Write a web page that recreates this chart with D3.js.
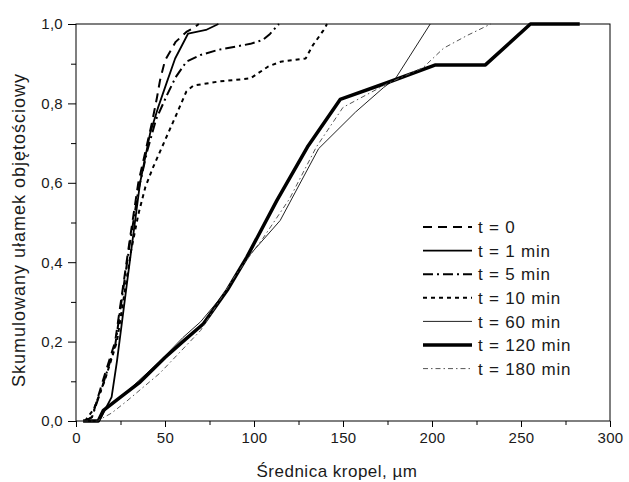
<!DOCTYPE html>
<html>
<head>
<meta charset="utf-8">
<script src="https://cdn.jsdelivr.net/npm/d3@7"></script>
<style>
  body { margin: 0; background: #fff; }
  svg text { font-family: "Liberation Sans", Arial, sans-serif; fill: #1a1a1a; }
</style>
</head>
<body>
<svg id="chart" width="629" height="482"></svg>
<script>
// Werte: [Srednica um, skumulowany ulamek]
const t0 = [[5,0],[9,0.01],[15,0.1],[22,0.2],[30,0.45],[35,0.6],[42.7,0.752],[45.5,0.815],[47.2,0.858],[50,0.908],[56,0.955],[62,0.98],[66,0.99],[69,1.0]];
const t1 = [[8,0],[13,0],[20,0.06],[23,0.15],[29,0.36],[36,0.6],[41.6,0.724],[46,0.788],[51,0.853],[55.7,0.913],[63,0.976],[73,0.985],[80,1.0]];
const t5 = [[5,0],[9,0.01],[15,0.09],[22,0.19],[30,0.44],[35,0.58],[40,0.68],[45,0.76],[51,0.82],[56,0.866],[62,0.905],[70,0.922],[80,0.935],[98,0.95],[105,0.96],[109,0.975],[114,1.0]];
const t10 = [[5,0],[10,0.03],[16,0.1],[23,0.2],[31,0.43],[35,0.52],[39,0.59],[43.4,0.64],[50,0.707],[56.7,0.775],[62,0.83],[66,0.845],[80,0.855],[98,0.863],[108,0.893],[115,0.905],[129,0.913],[133,0.946],[139,0.984],[141,1.0]];
const t60 = [[4,0],[12,0],[16,0.03],[30,0.08],[47,0.15],[60,0.21],[70,0.25],[85,0.33],[96,0.41],[114.7,0.505],[136.3,0.686],[157,0.778],[172.8,0.84],[179.4,0.862],[199,1.0]];
const t120 = [[4,0],[12.5,0],[15.4,0.027],[25,0.06],[36,0.098],[50,0.16],[60,0.2],[71.6,0.245],[85,0.33],[96,0.413],[112.8,0.555],[130,0.69],[148.4,0.81],[174.7,0.852],[202,0.897],[230,0.897],[255.3,1.0],[283,1.0]];
const t180 = [[4,0],[12,0],[20,0.02],[28.5,0.05],[47,0.12],[70,0.228],[90,0.37],[105,0.46],[120,0.56],[135,0.69],[150,0.79],[175,0.85],[195,0.89],[206.5,0.939],[219.7,0.971],[233,1.0]];

const seriesNames = ["t = 0", "t = 1 min", "t = 5 min", "t = 10 min", "t = 60 min", "t = 120 min", "t = 180 min"];
const seriesData = [t0, t1, t5, t10, t60, t120, t180];

const xTicks = [0, 50, 100, 150, 200, 250, 300];
const yTicks = [0, 0.2, 0.4, 0.6, 0.8, 1.0];

// Linienstile je Serie
const styles = [
  { w: 2, dash: "9,6", color: "#000" },
  { w: 1.8, dash: null, color: "#000" },
  { w: 2, dash: "10,4,2,4", color: "#000" },
  { w: 2, dash: "4,4", color: "#000" },
  { w: 1, dash: null, color: "#222" },
  { w: 3.5, dash: null, color: "#000" },
  { w: 1, dash: "5,3,1.5,3", color: "#555" }
];

const svg = d3.select("#chart");
const mLeft = 76, mRight = 610, mTop = 24, mBottom = 421;

const x = d3.scaleLinear().domain([0, 300]).range([mLeft, mRight]);
const y = d3.scaleLinear().domain([0, 1]).range([mBottom, mTop]);

const fmt = d => d3.format(".1f")(d).replace(".", ",");

// Kurven
const line = d3.line().x(d => x(d[0])).y(d => y(d[1]));
const plot = svg.append("g");
seriesData.forEach((s, i) => {
  plot.append("path")
    .datum(s)
    .attr("d", line)
    .attr("fill", "none")
    .attr("stroke", styles[i].color)
    .attr("stroke-width", styles[i].w)
    .attr("stroke-dasharray", styles[i].dash)
    .attr("stroke-linejoin", "round");
});

// Rahmen
svg.append("rect")
  .attr("x", mLeft).attr("y", mTop)
  .attr("width", mRight - mLeft).attr("height", mBottom - mTop)
  .attr("fill", "none").attr("stroke", "#000").attr("stroke-width", 1);

// Achsen
svg.append("g").attr("transform", `translate(0,${mBottom})`)
  .call(d3.axisBottom(x).tickValues(xTicks).tickSize(6).tickPadding(5).tickFormat(d3.format("d")));
svg.append("g").attr("transform", `translate(0,${mBottom})`)
  .call(d3.axisBottom(x).tickValues(d3.range(25, 300, 50)).tickSize(4).tickFormat(""));
svg.append("g").attr("transform", `translate(${mLeft},0)`)
  .call(d3.axisLeft(y).tickValues(yTicks).tickSize(8).tickPadding(5).tickFormat(fmt));
svg.append("g").attr("transform", `translate(${mLeft},0)`)
  .call(d3.axisLeft(y).tickValues(d3.range(0.1, 1, 0.2)).tickSize(5).tickFormat(""));

svg.selectAll(".domain").remove();
svg.selectAll(".tick line").attr("stroke", "#000");
svg.selectAll(".tick text")
  .style("font-size", "15px")
  .style("letter-spacing", "0.3px")
  .attr("fill", "#1a1a1a");

// Achsentitel
svg.append("text")
  .attr("x", 337).attr("y", 477)
  .attr("text-anchor", "middle")
  .style("font-size", "17px")
  .style("letter-spacing", "0.5px")
  .text("Średnica kropel, µm");

svg.append("text")
  .attr("transform", "translate(25,230) rotate(-90)")
  .attr("text-anchor", "middle")
  .style("font-size", "18px")
  .style("letter-spacing", "1px")
  .text("Skumulowany ułamek objętościowy");

// Legende
const legend = svg.append("g");
seriesNames.forEach((name, i) => {
  const ly = 227 + i * 23.6;
  legend.append("line")
    .attr("x1", 423).attr("x2", 472)
    .attr("y1", ly).attr("y2", ly)
    .attr("stroke", styles[i].color)
    .attr("stroke-width", styles[i].w)
    .attr("stroke-dasharray", styles[i].dash);
  legend.append("text")
    .attr("x", 478).attr("y", ly)
    .attr("dy", "0.36em")
    .style("font-size", "17px")
    .style("letter-spacing", "0.8px")
    .text(name);
});
</script>
</body>
</html>
